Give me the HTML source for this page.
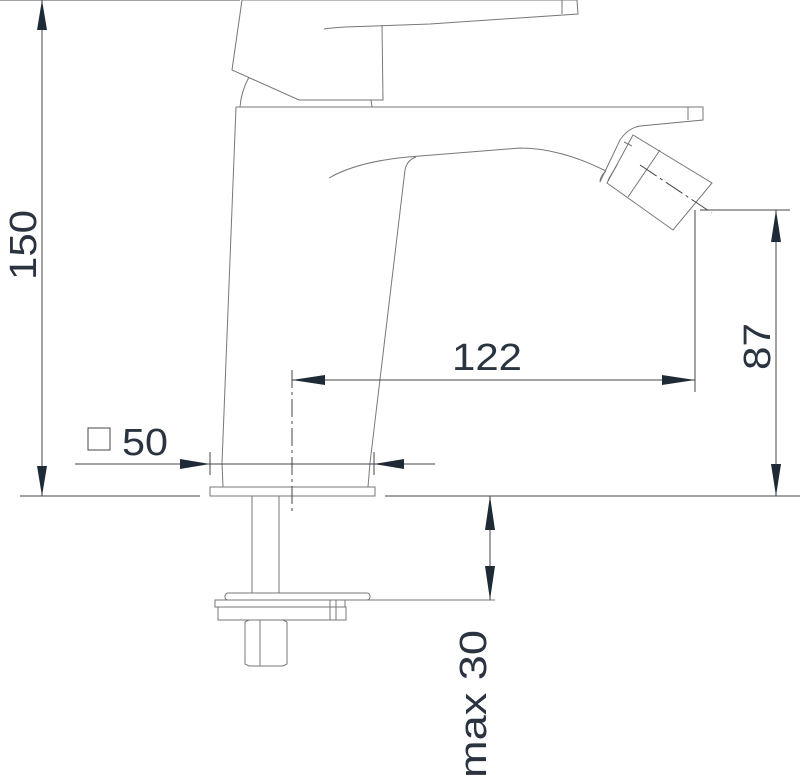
<!DOCTYPE html>
<html><head><style>html,body{margin:0;padding:0;background:#fff}svg{display:block}</style></head><body>
<svg width="800" height="781" viewBox="0 0 800 781" xmlns="http://www.w3.org/2000/svg">
<g fill="none" stroke="#777" stroke-width="1">
<path d="M242,0 L577,0 L578,14 L430,24 L345,27 Q330,28 324,29"/>
<line x1="562" y1="0" x2="562" y2="14"/>
<path d="M242,0 L232,70 L299,100 L383,100 L382,25"/>
<path d="M249,77 Q241,92 240,107"/>
<path d="M371,100 L372,107"/>
<path d="M236,107 L703,107 L703,120 L640,126 Q628,128 620,140 L600,182"/>
<line x1="688" y1="107" x2="688" y2="120"/>
<path d="M236,107 L222,463"/>
<path d="M329,178 Q360,160 420,156 L520,148 Q560,148 606,171"/>
<path d="M416,157 Q407,160 405,170 L370,463"/>
<path d="M600,182 Q600,176 606,171"/>
<path d="M633,135 L712,183 L673,230 L607,183 Z"/>
<line x1="660" y1="150" x2="628" y2="197"/>
<line x1="624" y1="142" x2="632" y2="146"/>
<line x1="617" y1="165" x2="608" y2="180"/>
<rect x="210" y="487" width="165" height="9"/>
<line x1="222" y1="463" x2="223" y2="487"/>
<line x1="370" y1="463" x2="368" y2="487"/>
<rect x="252" y="496" width="27" height="97"/>
<rect x="225" y="593" width="145" height="7" rx="3"/>
<rect x="215" y="600" width="130" height="7"/>
<rect x="218" y="607" width="128" height="13"/>
<line x1="330" y1="600" x2="330" y2="620"/><line x1="336" y1="600" x2="336" y2="620"/>
<path d="M245,622 L249,620 L283,620 L287,622 L287,664 L283,666 L249,666 L245,664 Z"/>
<line x1="260" y1="620" x2="260" y2="666"/>
<line x1="350" y1="600" x2="495" y2="600"/>
</g>
<g fill="none" stroke="#444" stroke-width="1">
<line x1="0" y1="0" x2="240" y2="0"/>
<line x1="42" y1="0" x2="42" y2="496"/>
<line x1="20" y1="496" x2="200" y2="496"/>
<line x1="385" y1="496" x2="800" y2="496"/>
<line x1="75" y1="464" x2="435" y2="464"/>
<line x1="210" y1="452" x2="210" y2="475"/>
<line x1="374" y1="452" x2="374" y2="475"/>
<line x1="292" y1="370" x2="292" y2="515" stroke-dasharray="18,4,3,4"/>
<line x1="292" y1="380" x2="695" y2="380"/>
<line x1="695" y1="210" x2="695" y2="392"/>
<line x1="700" y1="210" x2="790" y2="210"/>
<line x1="776" y1="210" x2="776" y2="496"/>
<line x1="490" y1="496" x2="490" y2="600"/>
<line x1="640" y1="165" x2="712" y2="213" stroke-dasharray="20,4,3,4"/>
<rect x="88" y="428" width="22" height="22"/>
</g>
<g fill="#1e2a36">
<path d="M42,0 L37,30 L47,30 Z"/><path d="M42,496 L37,466 L47,466 Z"/>
<path d="M210,464 L180,459 L180,469 Z"/><path d="M374,464 L404,459 L404,469 Z"/>
<path d="M292,380 L325,375 L325,385 Z"/><path d="M695,380 L662,375 L662,385 Z"/>
<path d="M776,210 L771,242 L781,242 Z"/><path d="M776,496 L771,464 L781,464 Z"/>
<path d="M490,496 L485,530 L495,530 Z"/><path d="M490,600 L485,566 L495,566 Z"/>
</g>
<g font-family="Liberation Sans, sans-serif" font-size="38" fill="#2a3440" lengthAdjust="spacingAndGlyphs">
<text x="122" y="455" textLength="46" lengthAdjust="spacingAndGlyphs">50</text>
<text x="452" y="370" textLength="70" lengthAdjust="spacingAndGlyphs">122</text>
<text transform="translate(36,280) rotate(-90)" textLength="70" lengthAdjust="spacingAndGlyphs">150</text>
<text transform="translate(770,370) rotate(-90)" textLength="47" lengthAdjust="spacingAndGlyphs">87</text>
<text transform="translate(486,778) rotate(-90)" textLength="148" lengthAdjust="spacingAndGlyphs">max 30</text>
</g>
</svg>
</body></html>
